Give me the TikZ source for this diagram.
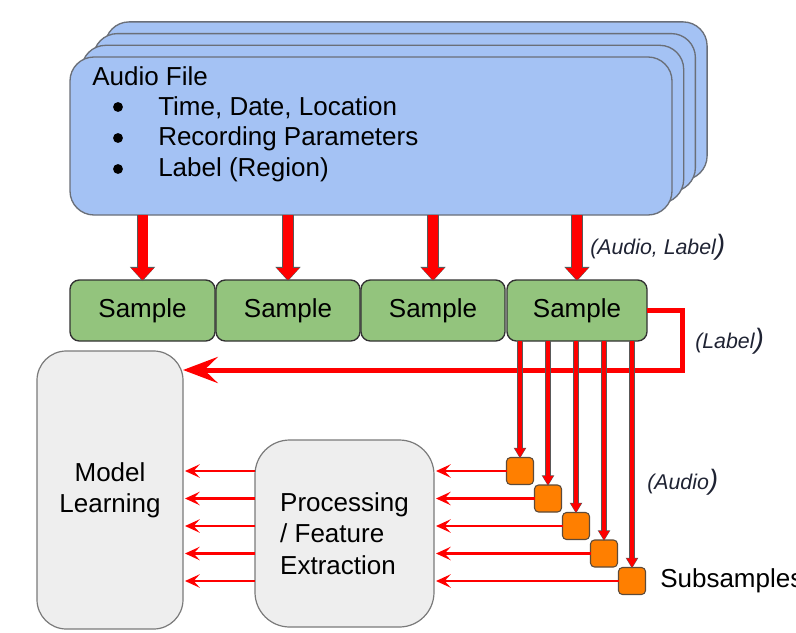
\documentclass[tikz,border=0pt]{standalone}
\usepackage{fontspec}
\setmainfont{Liberation Sans}
\usetikzlibrary{arrows.meta,calc}

\definecolor{filebg}{HTML}{A4C2F4}
\definecolor{fileline}{HTML}{6A6F78}
\definecolor{samplebg}{HTML}{93C47D}
\definecolor{sampleline}{HTML}{333333}
\definecolor{stagebg}{HTML}{EEEEEE}
\definecolor{stageline}{HTML}{7A7A7A}
\definecolor{subbg}{HTML}{FF7F00}
\definecolor{subline}{HTML}{5C4A3A}
\definecolor{flowred}{HTML}{FF0000}
\definecolor{rim}{HTML}{595959}
\definecolor{notecol}{HTML}{1F2333}

\begin{document}
\begin{tikzpicture}[x=0.75pt,y=-0.75pt,
  font=\fontsize{19.5}{23.4}\selectfont,
  filebox/.style={draw=fileline, line width=1pt, fill=filebg, rounded corners=18pt,
    minimum width=451.5pt, minimum height=118.5pt, inner sep=0pt, outer sep=0pt},
  samplebox/.style={draw=sampleline, line width=1pt, fill=samplebg, rounded corners=7pt,
    minimum height=45.75pt, inner sep=0pt, outer sep=0pt},
  stagebox/.style={draw=stageline, line width=0.9pt, fill=stagebg,
    inner sep=0pt, outer sep=0pt},
  subbox/.style={draw=subline, line width=0.8pt, fill=subbg, rounded corners=3pt,
    minimum size=20.25pt, inner sep=0pt, outer sep=0pt},
  txt/.style={anchor=west, inner sep=0pt},
  dot/.style={circle, fill=black, inner sep=0pt, minimum size=7.4pt},
  notetxt/.style={anchor=west, inner sep=0pt, text=notecol,
    font=\fontsize{16}{19}\selectfont\itshape},
  bigrim/.style={draw=rim, line width=8.7pt, shorten >=-0.8pt,
    -{Triangle[width=18.3pt,length=10.6pt]}},
  bigarrow/.style={draw=flowred, line width=7.5pt,
    -{Triangle[width=16.5pt,length=9pt]}},
  subrim/.style={draw=rim, line width=4.4pt, shorten >=-0.7pt,
    -{Triangle[width=8.9pt,length=8pt]}},
  subarrow/.style={draw=flowred, line width=3pt,
    -{Triangle[width=7.5pt,length=6.8pt]}},
  flow/.style={draw=flowred, line width=2.2pt, shorten >=1.5pt,
    -{Stealth[length=11pt,width=10pt,inset=4.5pt]}},
  labelflow/.style={draw=flowred, line width=3.75pt,
    -{Stealth[length=26pt,width=19.5pt,inset=10pt]}}
]
\useasboundingbox (0,0) rectangle (796,632);
\fill[white] (0,0) rectangle (796,632);

% stack of audio files, back to front
\node[filebox] (af3) at (406.1,100.9) {};
\node[filebox] (af2) at (394.4,112.6) {};
\node[filebox] (af1) at (382.7,124.3) {};
\node[filebox] (af) at (371,136) {};

\node[txt] (title) at (92,76) {Audio File};
\node[dot] (b1) at (118,107) {};
\node[dot] (b2) at (118,138) {};
\node[dot] (b3) at (118,169) {};
\node[txt] (i1) at (158,108) {Time, Date, Location};
\node[txt] (i2) at (158,139) {Recording Parameters};
\node[txt] (i3) at (158,170) {Label (Region)};

% samples
\node[samplebox, minimum width=108.75pt] (s1) at (142.5,310.5) {Sample};
\node[samplebox, minimum width=108pt] (s2) at (288,310.5) {Sample};
\node[samplebox, minimum width=108pt] (s3) at (433,310.5) {Sample};
\node[samplebox, minimum width=105pt] (s4) at (577,310.5) {Sample};

% audio file -> samples
\foreach \s in {s1,s2,s3,s4}{
  \draw[bigrim] (af.south -| \s.north) -- (\s.north);
  \draw[bigarrow] (af.south -| \s.north) -- (\s.north);
}

% stages
\node[stagebox, minimum width=109.5pt, minimum height=208.5pt, rounded corners=22pt,
  align=center] (ml) at (110,490) {Model\\Learning};
\node[stagebox, minimum width=134.25pt, minimum height=140.25pt, rounded corners=26pt,
  align=left, font=\fontsize{19.5}{23.6}\selectfont] (pf) at (344.5,533.5)
  {Processing\\/ Feature\\Extraction};

% label path back to model learning
\draw[labelflow] (s4.east) -- ++(35,0) |- ([yshift=-14.25pt]ml.north east);

% subsamples
\foreach \i in {1,...,5}{
  \node[subbox] (q\i) at ({520+28*(\i-1)},{471+27.5*(\i-1)}) {};
}
\foreach \i in {1,...,5}{
  \draw[subrim] (q\i.north |- s4.south) -- (q\i.north);
  \draw[subarrow] (q\i.north |- s4.south) -- (q\i.north);
  \draw[flow] (q\i.west) -- (q\i.west -| pf.east);
  \draw[flow] (q\i.west -| pf.west) -- (q\i.west -| ml.east);
}

% annotations
\node[notetxt] (nal) at (590,247) {(Audio, Label{\fontsize{21}{21}\selectfont)}};
\node[notetxt] (nl) at (695,341) {(Label{\fontsize{21}{21}\selectfont)}};
\node[notetxt] (na) at (647,482) {(Audio{\fontsize{21}{21}\selectfont)}};
\node[txt] (ns) at (660,581) {Subsamples};
\end{tikzpicture}
\end{document}
